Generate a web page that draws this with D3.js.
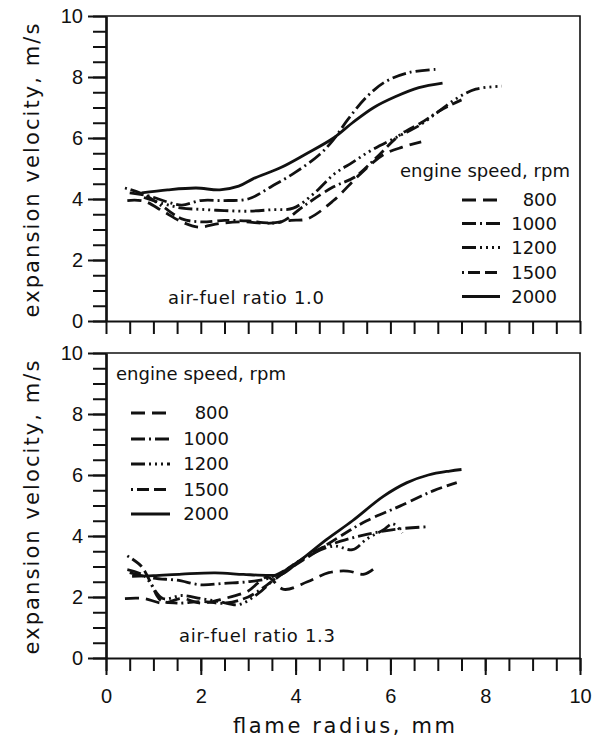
<!DOCTYPE html>
<html>
<head>
<meta charset="utf-8">
<script src="https://cdn.jsdelivr.net/npm/d3@7"></script>
<style>
  html, body { margin: 0; padding: 0; background: #fff; }
  svg { display: block; }
</style>
</head>
<body>
<svg id="chart" width="606" height="740"></svg>
<script>
// Engine speeds shown in both legends (rpm)
const speeds = ["800", "1000", "1200", "1500", "2000"];

// Axis tick labels
const xTickLabels = [0, 2, 4, 6, 8, 10];
const yTickLabels = [0, 2, 4, 6, 8, 10];

// Air-fuel ratio 1.0: [flame radius (mm), expansion velocity (m/s)]
const afr10_800  = [[0.45,3.95],[0.8,3.93],[1.2,3.6],[1.6,3.25],[1.95,3.08],[2.4,3.2],[2.9,3.25],[3.4,3.2],[3.9,3.3],[4.25,3.35],[4.8,3.95],[5.35,4.8],[5.85,5.45],[6.25,5.7],[6.65,5.87]];
const afr10_1000 = [[0.5,4.2],[0.9,4.1],[1.3,3.9],[1.6,3.8],[2.0,3.95],[2.5,3.95],[3.0,4.0],[3.5,4.42],[4.0,4.88],[4.5,5.45],[4.8,5.95],[5.1,6.6],[5.5,7.35],[5.9,7.85],[6.4,8.15],[6.95,8.25]];
const afr10_1200 = [[0.8,4.05],[1.2,3.85],[1.6,3.7],[2.0,3.66],[2.5,3.62],[3.0,3.6],[3.5,3.65],[3.95,3.7],[4.4,4.2],[4.8,4.8],[5.2,5.2],[5.6,5.6],[6.2,6.08],[6.6,6.4],[7.0,6.85],[7.4,7.3],[7.8,7.6],[8.35,7.7]];
const afr10_1500 = [[0.4,4.36],[0.8,4.15],[1.2,3.75],[1.6,3.35],[2.0,3.25],[2.5,3.3],[3.0,3.28],[3.4,3.22],[3.7,3.25],[4.2,3.8],[4.8,4.4],[5.25,4.72],[5.7,5.35],[6.2,6.1],[6.65,6.5],[7.05,6.9],[7.5,7.25]];
const afr10_2000 = [[0.75,4.2],[1.3,4.3],[1.9,4.36],[2.4,4.3],[2.8,4.42],[3.1,4.66],[3.7,5.04],[4.2,5.46],[4.8,6.0],[5.2,6.5],[5.65,7.0],[6.1,7.35],[6.6,7.65],[7.1,7.8]];

// Air-fuel ratio 1.3
const afr13_800  = [[0.4,1.95],[0.8,1.95],[1.2,1.8],[1.6,1.95],[2.0,1.8],[2.5,1.95],[3.0,2.2],[3.4,2.65],[3.75,2.25],[4.25,2.5],[4.7,2.8],[5.1,2.85],[5.45,2.75],[5.75,3.05]];
const afr13_1000 = [[0.5,2.8],[1.0,2.62],[1.5,2.55],[2.0,2.4],[2.5,2.45],[3.0,2.5],[3.4,2.6],[3.8,2.9],[4.4,3.5],[4.95,3.83],[5.5,4.05],[6.1,4.22],[6.75,4.3]];
const afr13_1200 = [[0.45,2.9],[0.8,2.7],[1.2,1.95],[1.6,2.05],[2.0,1.95],[2.4,1.85],[2.8,1.75],[3.2,2.1],[3.6,2.65],[4.1,3.2],[4.8,3.67],[5.2,3.55],[5.5,3.9],[5.85,4.2],[6.05,4.4],[6.25,4.1]];
const afr13_1500 = [[0.45,3.35],[0.75,3.0],[0.95,2.45],[1.15,1.9],[1.5,1.8],[2.0,1.85],[2.5,1.8],[3.0,2.0],[3.4,2.4],[3.8,2.85],[4.4,3.45],[4.95,4.0],[5.5,4.5],[6.2,4.98],[6.9,5.48],[7.4,5.75]];
const afr13_2000 = [[0.55,2.68],[1.0,2.7],[1.6,2.75],[2.3,2.79],[2.9,2.74],[3.4,2.71],[3.7,2.74],[4.1,3.2],[4.65,3.88],[5.2,4.5],[5.85,5.3],[6.35,5.75],[6.8,6.0],[7.25,6.13],[7.5,6.18]];

// Line style per engine speed
const dashes = {
  "800":  "14,7",
  "1000": "14,4,2,4",
  "1200": "14,4,2,4,2,4,2,4",
  "1500": "2,4,12,5,12,4",
  "2000": null
};

const svg = d3.select("#chart");
const ink = "#111";
const textFont = "'DejaVu Sans', sans-serif";
const tickFont = "'Liberation Sans', Arial, sans-serif";

const x = d3.scaleLinear().domain([0, 10]).range([106, 580]);

const panels = [
  { top: 16,  bottom: 321, series: [afr10_800, afr10_1000, afr10_1200, afr10_1500, afr10_2000],
    label: "air-fuel ratio 1.0", labelPos: [168, 304], showX: false,
    legend: { headX: 400, headY: 177, lineX0: 462, lineX1: 500, numX: 557, rows: [200, 223.5, 247.5, 272.5, 296.5] } },
  { top: 353, bottom: 658, series: [afr13_800, afr13_1000, afr13_1200, afr13_1500, afr13_2000],
    label: "air-fuel ratio 1.3", labelPos: [179, 642], showX: true,
    legend: { headX: 116, headY: 380, lineX0: 131, lineX1: 170, numX: 229, rows: [413, 439, 464, 489.5, 514] } }
];

const halfSteps = d3.range(0, 10.001, 0.5);

panels.forEach(p => {
  const y = d3.scaleLinear().domain([0, 10]).range([p.bottom, p.top]);
  const g = svg.append("g");

  // frame: top and right edges
  g.append("path")
    .attr("d", `M${x(0)},${y(10)}H${x(10)}V${y(0)}`)
    .attr("fill", "none").attr("stroke", ink).attr("stroke-width", 1.6);

  // y axis: minor and major ticks
  const yMinor = d3.axisLeft(y).tickValues(halfSteps).tickSize(13).tickSizeOuter(0).tickFormat("");
  const yMajor = d3.axisLeft(y).tickValues(yTickLabels).tickSize(18).tickSizeOuter(0).tickPadding(5);
  [yMinor, yMajor].forEach(ax => {
    const a = g.append("g").attr("transform", `translate(${x(0)},0)`).call(ax);
    a.selectAll("line").attr("stroke", ink).attr("stroke-width", 2);
    a.select(".domain").attr("stroke", ink).attr("stroke-width", 2.2);
    a.selectAll("text").attr("fill", ink).attr("font-family", tickFont).attr("font-size", 20);
  });

  // x axis
  const xMinor = d3.axisBottom(x).tickValues(halfSteps).tickSize(13).tickSizeOuter(0).tickFormat("");
  const xa = g.append("g").attr("transform", `translate(0,${y(0)})`).call(xMinor);
  xa.selectAll("line").attr("stroke", ink).attr("stroke-width", 2);
  xa.select(".domain").attr("stroke", ink).attr("stroke-width", 2.2);
  if (p.showX) {
    const xMajor = d3.axisBottom(x).tickValues(xTickLabels).tickSize(17).tickSizeOuter(0).tickPadding(14);
    const xb = g.append("g").attr("transform", `translate(0,${y(0)})`).call(xMajor);
    xb.selectAll("line").attr("stroke", ink).attr("stroke-width", 2);
    xb.select(".domain").attr("stroke", "none");
    xb.selectAll("text").attr("fill", ink).attr("font-family", tickFont).attr("font-size", 20);
  }

  // y axis title
  g.append("text")
    .attr("transform", `translate(39,${(p.top + p.bottom) / 2 + 2}) rotate(-90)`)
    .attr("text-anchor", "middle")
    .attr("font-family", textFont).attr("font-size", 21)
    .attr("textLength", 294).attr("lengthAdjust", "spacing")
    .attr("fill", ink)
    .text("expansion velocity, m/s");

  // curves
  const line = d3.line().x(d => x(d[0])).y(d => y(d[1])).curve(d3.curveCatmullRom.alpha(0.5));
  p.series.forEach((s, i) => {
    g.append("path")
      .attr("d", line(s))
      .attr("fill", "none").attr("stroke", ink).attr("stroke-width", 2.8)
      .attr("stroke-dasharray", dashes[speeds[i]]);
  });

  // legend
  const L = p.legend;
  g.append("text").attr("x", L.headX).attr("y", L.headY)
    .attr("font-family", textFont).attr("font-size", 18)
    .attr("textLength", 170).attr("lengthAdjust", "spacing")
    .attr("fill", ink)
    .text("engine speed, rpm");
  speeds.forEach((sp, i) => {
    g.append("line")
      .attr("x1", L.lineX0).attr("x2", L.lineX1).attr("y1", L.rows[i]).attr("y2", L.rows[i])
      .attr("stroke", ink).attr("stroke-width", 2.8)
      .attr("stroke-dasharray", dashes[sp]);
    g.append("text").attr("x", L.numX).attr("y", L.rows[i]).attr("dy", "0.36em")
      .attr("text-anchor", "end")
      .attr("font-family", textFont).attr("font-size", 18).attr("fill", ink)
      .text(sp);
  });

  // panel annotation
  g.append("text").attr("x", p.labelPos[0]).attr("y", p.labelPos[1])
    .attr("font-family", textFont).attr("font-size", 18)
    .attr("textLength", 156).attr("lengthAdjust", "spacing")
    .attr("fill", ink)
    .text(p.label);
});

// x axis title
svg.append("text")
  .attr("x", 344).attr("y", 733)
  .attr("text-anchor", "middle")
  .attr("font-family", textFont).attr("font-size", 21)
  .attr("textLength", 222).attr("lengthAdjust", "spacing")
  .attr("fill", ink)
  .text("flame radius, mm");
</script>
</body>
</html>
